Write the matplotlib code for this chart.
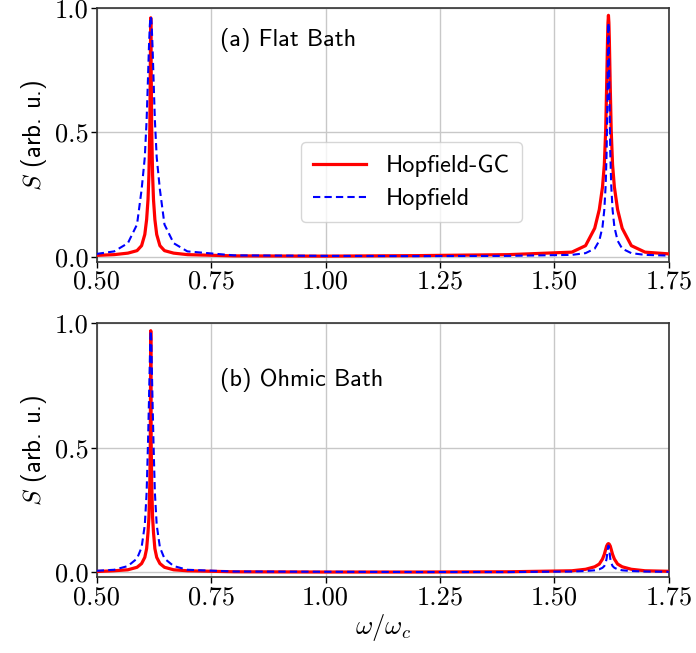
import matplotlib
matplotlib.use("Agg")
import matplotlib.pyplot as plt

plt.rcParams['mathtext.fontset'] = 'cm'

omega = [0.5,
         0.538, 0.568, 0.588, 0.598, 0.605, 0.609, 0.612, 0.614, 0.616, 0.617,
         0.618,
         0.619, 0.620, 0.622, 0.624, 0.627, 0.631, 0.638, 0.648, 0.668, 0.698,
         0.8, 1.0, 1.2, 1.4,
         1.538, 1.568, 1.588, 1.598, 1.605, 1.609, 1.612, 1.614, 1.616, 1.617,
         1.618,
         1.619, 1.620, 1.622, 1.624, 1.627, 1.631, 1.638, 1.648, 1.668, 1.698,
         1.75]

flat_gc = [0.006,
           0.009, 0.015, 0.025, 0.045, 0.09, 0.15, 0.23, 0.33, 0.52, 0.75,
           0.96,
           0.75, 0.52, 0.33, 0.23, 0.15, 0.09, 0.045, 0.025, 0.015, 0.009,
           0.004, 0.003, 0.005, 0.009,
           0.019, 0.045, 0.115, 0.19, 0.28, 0.37, 0.51, 0.68, 0.87, 0.94,
           0.97,
           0.94, 0.87, 0.68, 0.51, 0.37, 0.28, 0.19, 0.115, 0.045, 0.019,
           0.012]

flat_hop = [0.012,
            0.022, 0.055, 0.13, 0.27, 0.40, 0.55, 0.72, 0.84, 0.93, 0.955,
            0.965,
            0.955, 0.93, 0.84, 0.72, 0.55, 0.40, 0.27, 0.13, 0.055, 0.022,
            0.006, 0.004, 0.003, 0.004,
            0.008, 0.015, 0.033, 0.065, 0.12, 0.19, 0.29, 0.42, 0.66, 0.85,
            0.94,
            0.85, 0.66, 0.42, 0.29, 0.19, 0.12, 0.065, 0.033, 0.015, 0.008,
            0.005]

ohmic_gc = [0.003,
            0.006, 0.01, 0.02, 0.035, 0.06, 0.095, 0.16, 0.22, 0.36, 0.52,
            0.97,
            0.52, 0.36, 0.22, 0.16, 0.095, 0.06, 0.035, 0.02, 0.01, 0.006,
            0.002, 0.001, 0.001, 0.002,
            0.006, 0.012, 0.022, 0.033, 0.053, 0.072, 0.092, 0.105, 0.112, 0.114,
            0.115,
            0.114, 0.112, 0.105, 0.092, 0.072, 0.053, 0.033, 0.022, 0.012, 0.006,
            0.004]

ohmic_hop = [0.006,
             0.01, 0.025, 0.055, 0.10, 0.19, 0.32, 0.52, 0.68, 0.85, 0.94,
             0.97,
             0.94, 0.85, 0.68, 0.52, 0.32, 0.19, 0.10, 0.055, 0.025, 0.01,
             0.003, 0.002, 0.001, 0.001,
             0.003, 0.005, 0.008, 0.012, 0.018, 0.025, 0.038, 0.055, 0.085, 0.10,
             0.107,
             0.10, 0.085, 0.055, 0.038, 0.025, 0.018, 0.012, 0.008, 0.005, 0.003,
             0.002]

xticks = [0.50, 0.75, 1.00, 1.25, 1.50, 1.75]
yticks = [0.0, 0.5, 1.0]
panel_titles = ['(a) Flat Bath', '(b) Ohmic Bath']
labels = ['Hopfield-GC', 'Hopfield']

fig = plt.figure(figsize=(6.96, 6.53), dpi=100)
ax1 = fig.add_axes([0.139, 0.599, 0.822, 0.389])
ax2 = fig.add_axes([0.139, 0.116, 0.822, 0.389])

tick_font = dict(family='cmr10', size=19)

for ax, gc, hop, title, ty in [(ax1, flat_gc, flat_hop, panel_titles[0], 0.874),
                               (ax2, ohmic_gc, ohmic_hop, panel_titles[1], 0.776)]:
    ax.plot(omega, gc, color='red', lw=2.3, label=labels[0], zorder=3)
    ax.plot(omega, hop, color='blue', lw=1.5, ls=(0, (3.5, 2)), label=labels[1], zorder=4)
    ax.set_xlim(0.5, 1.75)
    ax.set_ylim(-0.02, 1.0)
    ax.set_xticks(xticks)
    ax.set_yticks(yticks)
    ax.set_xticklabels(['%.2f' % v for v in xticks], fontdict=tick_font)
    ax.set_yticklabels(['%.1f' % v for v in yticks], fontdict=tick_font)
    ax.grid(True, color='#c8c8c8', lw=1.0)
    ax.set_axisbelow(True)
    ax.tick_params(direction='out', length=4, width=1, pad=2)
    for s in ax.spines.values():
        s.set_color('#333333')
        s.set_linewidth(1.2)
    ax.set_ylabel(r'$S$ (arb. u.)', family='cmss10', fontsize=18, labelpad=4)
    ax.text(0.215, ty, title, transform=ax.transAxes, family='cmss10',
            fontsize=17.5, va='center', ha='left')

ax2.set_xlabel(r'$\omega/\omega_c$', fontsize=19, labelpad=2)

leg = ax1.legend(loc='center', bbox_to_anchor=(0.55, 0.313), prop=dict(family='cmss10', size=17.5),
                 handlelength=2.2, handletextpad=0.8, borderpad=0.5, labelspacing=0.45,
                 framealpha=0.8, edgecolor='#cccccc')

fig.savefig('out.png', dpi=100)
